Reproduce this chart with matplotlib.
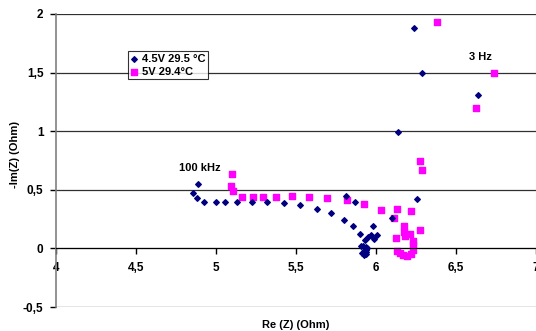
import matplotlib
matplotlib.use("Agg")
import matplotlib.pyplot as plt
from matplotlib.ticker import FuncFormatter, MultipleLocator

# 4.5V 29.5 °C  (navy diamonds)
re_45 = [4.890, 4.858, 4.883, 4.925, 4.998, 5.056, 5.133, 5.223, 5.320, 5.427,
         5.525, 5.630, 5.720, 5.800, 5.810, 5.867, 5.854, 5.900, 5.933, 5.950,
         5.980, 5.967, 6.004, 5.990, 5.904, 5.921, 5.940, 5.945, 5.935, 5.925,
         5.940, 5.935, 5.925, 5.915, 6.100, 6.254, 6.135, 6.235, 6.288, 6.640]
im_45 = [0.550, 0.476, 0.433, 0.393, 0.393, 0.393, 0.393, 0.400, 0.400, 0.390,
         0.370, 0.340, 0.300, 0.245, 0.447, 0.396, 0.188, 0.125, 0.068, 0.097,
         0.188, 0.117, 0.117, 0.077, 0.017, 0.017, 0.015, 0.000, -0.010, -0.020,
         -0.030, -0.045, -0.057, -0.040, 0.262, 0.419, 0.990, 1.883, 1.498, 1.305]

# 5V 29.4°C  (magenta squares)
re_5 = [5.100, 5.094, 5.108, 5.160, 5.233, 5.296, 5.377, 5.477, 5.583, 5.696,
        5.817, 5.927, 6.033, 6.130, 6.217, 6.115, 6.275, 6.175, 6.175, 6.213,
        6.179, 6.125, 6.229, 6.229, 6.129, 6.150, 6.170, 6.196, 6.217, 6.229,
        6.273, 6.290, 6.625, 6.738, 6.381]
im_5 = [0.632, 0.536, 0.487, 0.440, 0.436, 0.436, 0.440, 0.444, 0.440, 0.433,
        0.413, 0.379, 0.325, 0.339, 0.322, 0.262, 0.160, 0.188, 0.137, 0.120,
        0.103, 0.085, 0.062, 0.026, -0.023, -0.040, -0.057, -0.063, -0.045, -0.017,
        0.750, 0.667, 1.202, 1.498, 1.929]

x_ticks = [4, 4.5, 5, 5.5, 6, 6.5, 7]
y_ticks = [-0.5, 0, 0.5, 1, 1.5, 2]

plt.rcParams['font.family'] = ['Liberation Sans', 'DejaVu Sans']
plt.rcParams['font.weight'] = 'bold'

fig = plt.figure(figsize=(5.36, 3.31), dpi=100)
ax = fig.add_axes([56 / 536, 24 / 331, 480 / 536, 293 / 331])

for y in y_ticks:
    ax.axhline(y, color='#303030', lw=0.9, zorder=1)

ax.scatter(re_45, im_45, marker='D', s=8, color='#000080', zorder=3, label='4.5V 29.5 °C')
ax.scatter(re_5, im_5, marker='s', s=14, color='#ff00ff', zorder=2, label='5V 29.4°C')

ax.set_xlim(4, 7)
ax.set_ylim(-0.5, 2)
ax.set_xticks(x_ticks)
ax.set_yticks(y_ticks)

comma = FuncFormatter(lambda v, p: ('%g' % v).replace('.', ','))
ax.xaxis.set_major_formatter(comma)
ax.yaxis.set_major_formatter(comma)

ax.spines['top'].set_visible(False)
ax.spines['right'].set_visible(False)
ax.spines['bottom'].set_position(('data', 0))
ax.spines['bottom'].set_color('black')
ax.spines['left'].set_color('#808080')
ax.spines['left'].set_linewidth(1.2)
ax.tick_params(axis='both', labelsize=8.5, length=4, width=1, direction='out')
ax.tick_params(axis='x', pad=6)
ax.tick_params(axis='y', pad=5)

ax.text(4.9, 0.69, '100 kHz', fontsize=8, fontweight='bold', ha='center', va='center')
ax.text(6.65, 1.63, '3 Hz', fontsize=8, fontweight='bold', ha='center', va='center')

ax.set_xlabel('Re (Z) (Ohm)', fontsize=8, fontweight='bold')
ax.xaxis.set_label_coords(0.5, -0.045)
ax.set_ylabel('-Im(Z) (Ohm)', fontsize=8, fontweight='bold')
ax.yaxis.set_label_coords(-0.075, 0.52)

leg = ax.legend(loc='upper left', bbox_to_anchor=(72 / 480, 1 - 37 / 293), fontsize=8,
                frameon=True, fancybox=False, edgecolor='black', borderpad=0.25,
                handlelength=0.6, handletextpad=0.4, labelspacing=0.25, borderaxespad=0)
leg.get_frame().set_linewidth(0.8)

fig.savefig('out.png', dpi=100)
